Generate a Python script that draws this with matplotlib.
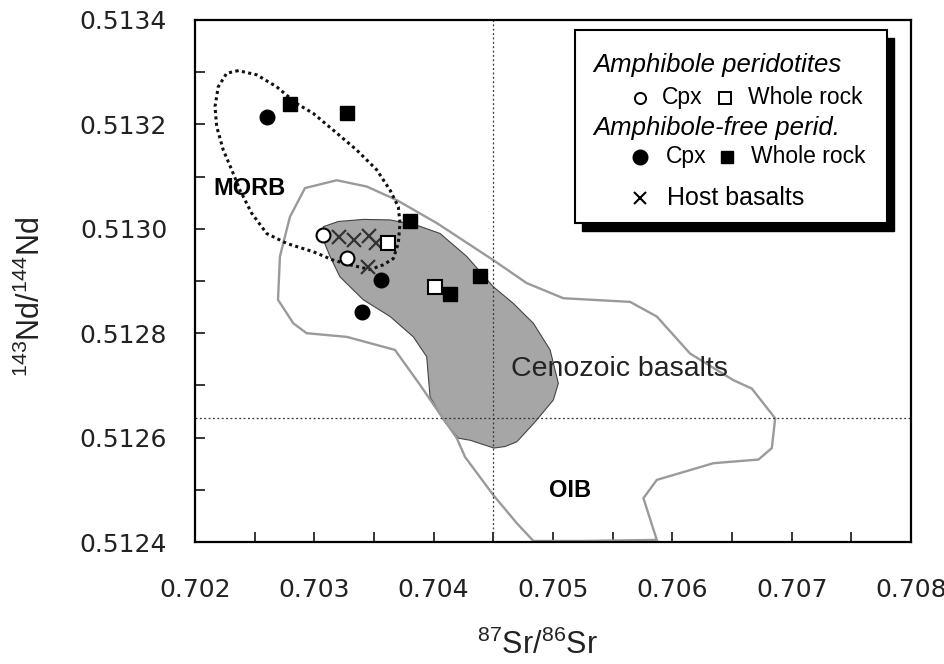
import matplotlib
matplotlib.use("Agg")
import matplotlib.pyplot as plt
from matplotlib.patches import Rectangle, Polygon
from matplotlib.ticker import MultipleLocator, FormatStrFormatter

plt.rcParams['font.family'] = ['Liberation Sans', 'DejaVu Sans']
plt.rcParams['mathtext.fontset'] = 'custom'
plt.rcParams['mathtext.rm'] = 'Liberation Sans'
plt.rcParams['mathtext.it'] = 'Liberation Sans:italic'
plt.rcParams['mathtext.bf'] = 'Liberation Sans:bold'

# --- data (87Sr/86Sr, 143Nd/144Nd) ---
amph_cpx_sr = [0.70307, 0.70327]
amph_cpx_nd = [0.512988, 0.512945]
amph_wr_sr = [0.70362, 0.70401]
amph_wr_nd = [0.512972, 0.512889]

free_cpx_sr = [0.70260, 0.70356, 0.70340]
free_cpx_nd = [0.513215, 0.512902, 0.512841]
free_wr_sr = [0.70280, 0.70327, 0.70380, 0.70439, 0.70414]
free_wr_nd = [0.513239, 0.513222, 0.513015, 0.512910, 0.512875]

host_sr = [0.70321, 0.70333, 0.70346, 0.70352, 0.70345]
host_nd = [0.512984, 0.512979, 0.512986, 0.512972, 0.512926]

morb_sr = [0.702363, 0.702266, 0.702195, 0.702168, 0.702182, 0.702237, 0.702308,
           0.702377, 0.702475, 0.702601, 0.702769, 0.702992, 0.703159, 0.703299,
           0.703467, 0.703578, 0.703662, 0.703704, 0.703718, 0.703704, 0.703635,
           0.703523, 0.703355, 0.703159, 0.702992, 0.702852, 0.702685, 0.702517]
morb_nd = [0.513303, 0.513298, 0.513272, 0.513234, 0.513196, 0.513151, 0.513113,
           0.513074, 0.513030, 0.512991, 0.512972, 0.512956, 0.512940, 0.512931,
           0.512922, 0.512931, 0.512943, 0.512972, 0.513011, 0.513042, 0.513074,
           0.513113, 0.513151, 0.513189, 0.513221, 0.513240, 0.513272, 0.513295]

ceno_sr = [0.703075, 0.703201, 0.703411, 0.703635, 0.703858, 0.704054, 0.704278,
           0.704500, 0.704668, 0.704836, 0.704976, 0.705045, 0.705003, 0.704850,
           0.704697, 0.704599, 0.704506, 0.704305, 0.704205, 0.704081, 0.703970,
           0.703942, 0.703830, 0.703635, 0.703411, 0.703215, 0.703132, 0.703075]
ceno_nd = [0.513004, 0.513014, 0.513018, 0.513017, 0.513007, 0.512991, 0.512947,
           0.512889, 0.512857, 0.512819, 0.512768, 0.512704, 0.512672, 0.512630,
           0.512592, 0.512583, 0.512580, 0.512595, 0.512599, 0.512634, 0.512678,
           0.512755, 0.512793, 0.512832, 0.512864, 0.512908, 0.512947, 0.512979]

oib_sr = [0.702696, 0.702712, 0.702796, 0.702922, 0.703188, 0.703439, 0.703691,
          0.704026, 0.704500, 0.704780, 0.705087, 0.705646, 0.705870, 0.706149,
          0.706512, 0.706666, 0.706862, 0.706834, 0.706722, 0.706345, 0.705870,
          0.705758, 0.705870, 0.705227, 0.704836, 0.704697, 0.704500, 0.704263,
          0.704194, 0.704039, 0.703886, 0.703676, 0.703272, 0.702936, 0.702824]
oib_nd = [0.512864, 0.512947, 0.513023, 0.513078, 0.513093, 0.513081, 0.513055,
          0.513011, 0.512940, 0.512896, 0.512867, 0.512860, 0.512832, 0.512761,
          0.512710, 0.512694, 0.512637, 0.512580, 0.512558, 0.512551, 0.512519,
          0.512484, 0.512404, 0.512402, 0.512402, 0.512436, 0.512490, 0.512563,
          0.512599, 0.512650, 0.512701, 0.512768, 0.512793, 0.512800, 0.512819]

bulk_earth_sr = 0.7045
chur_nd = 0.512638

fig = plt.figure(figsize=(9.45, 6.64), dpi=100)
ax = fig.add_axes([0.2063, 0.1837, 0.7577, 0.7862])
ax.set_xlim(0.702, 0.708)
ax.set_ylim(0.5124, 0.5134)

# fields
ax.add_patch(Polygon(list(zip(ceno_sr, ceno_nd)), closed=True, facecolor='#a6a6a6',
                     edgecolor='#444444', linewidth=0.8, zorder=1))
ax.add_patch(Polygon(list(zip(oib_sr, oib_nd)), closed=True, fill=False,
                     edgecolor='#9a9a9a', linewidth=1.7, zorder=2))
ax.add_patch(Polygon(list(zip(morb_sr, morb_nd)), closed=True, fill=False,
                     edgecolor='#111111', linewidth=2.2, linestyle=(0, (1, 1.1)), zorder=3))

ax.axvline(bulk_earth_sr, color='#333333', linewidth=0.9, linestyle=(0, (1.5, 2)), zorder=2)
ax.axhline(chur_nd, color='#333333', linewidth=0.9, linestyle=(0, (1.5, 2)), zorder=2)

ax.text(0.702453, 0.513078, 'MORB', fontsize=17, fontweight='bold', ha='center', va='center', zorder=4)
ax.text(0.705141, 0.512499, 'OIB', fontsize=17, fontweight='bold', ha='center', va='center', zorder=4)
ax.text(0.705554, 0.512731, 'Cenozoic basalts', fontsize=20.5, color='#222222',
        ha='center', va='center', zorder=4)

# samples
ax.plot(host_sr, host_nd, 'x', color='#333333', markersize=10, markeredgewidth=1.6, zorder=5)
ax.plot(amph_cpx_sr, amph_cpx_nd, 'o', mfc='white', mec='black', mew=1.5, markersize=10, zorder=6)
ax.plot(amph_wr_sr, amph_wr_nd, 's', mfc='white', mec='black', mew=1.5, markersize=9.5, zorder=6)
ax.plot(free_cpx_sr, free_cpx_nd, 'o', color='black', markersize=10.5, zorder=6)
ax.plot(free_wr_sr, free_wr_nd, 's', color='black', markersize=10, zorder=6)

# axes styling
for s in ax.spines.values():
    s.set_linewidth(1.6)
ax.xaxis.set_major_locator(MultipleLocator(0.001))
ax.xaxis.set_minor_locator(MultipleLocator(0.0005))
ax.yaxis.set_major_locator(MultipleLocator(0.0002))
ax.yaxis.set_minor_locator(MultipleLocator(0.0001))
ax.xaxis.set_major_formatter(FormatStrFormatter('%.3f'))
ax.yaxis.set_major_formatter(FormatStrFormatter('%.4f'))
ax.tick_params(which='both', direction='in', length=7, width=1.1, top=False, right=False)
ax.tick_params(axis='x', which='major', pad=26, labelsize=18)
ax.tick_params(axis='y', which='major', pad=20, labelsize=18)
for lab in ax.get_xticklabels() + ax.get_yticklabels():
    lab.set_family('DejaVu Sans')
    lab.set_color('#222222')

ax.set_xlabel(r'$^{87}$Sr/$^{86}$Sr', fontsize=22, color='#222222')
ax.xaxis.set_label_coords(0.478, -0.168)
ax.set_ylabel(r'$^{143}$Nd/$^{144}$Nd', fontsize=22, color='#222222')
ax.yaxis.set_label_coords(-0.207, 0.47)

# legend box with hard shadow
ax.add_patch(Rectangle((0.541, 0.596), 0.435, 0.37, transform=ax.transAxes,
                       facecolor='black', edgecolor='black', clip_on=False, zorder=7))
ax.add_patch(Rectangle((0.531, 0.611), 0.435, 0.37, transform=ax.transAxes,
                       facecolor='white', edgecolor='black', linewidth=1.5, clip_on=False, zorder=8))
tr = ax.transAxes
ax.text(0.556, 0.914, 'Amphibole peridotites', transform=tr, fontsize=18.5, style='italic',
        va='center', zorder=9)
ax.plot([0.622], [0.851], 'o', transform=tr, mfc='white', mec='black', mew=1.4, markersize=8, zorder=9)
ax.text(0.652, 0.851, 'Cpx', transform=tr, fontsize=16.5, va='center', zorder=9)
ax.plot([0.740], [0.851], 's', transform=tr, mfc='white', mec='black', mew=1.4, markersize=8, zorder=9)
ax.text(0.773, 0.851, 'Whole rock', transform=tr, fontsize=16.5, va='center', zorder=9)
ax.text(0.556, 0.793, 'Amphibole-free perid.', transform=tr, fontsize=18.5, style='italic',
        va='center', zorder=9)
ax.plot([0.622], [0.738], 'o', transform=tr, color='black', markersize=10.5, zorder=9)
ax.text(0.657, 0.738, 'Cpx', transform=tr, fontsize=16.5, va='center', zorder=9)
ax.plot([0.743], [0.738], 's', transform=tr, color='black', markersize=9, zorder=9)
ax.text(0.776, 0.738, 'Whole rock', transform=tr, fontsize=16.5, va='center', zorder=9)
ax.plot([0.622], [0.659], 'x', transform=tr, color='black', markersize=9, mew=1.5, zorder=9)
ax.text(0.659, 0.659, 'Host basalts', transform=tr, fontsize=18, va='center', zorder=9)

fig.savefig('out.png', dpi=100, facecolor='white')
